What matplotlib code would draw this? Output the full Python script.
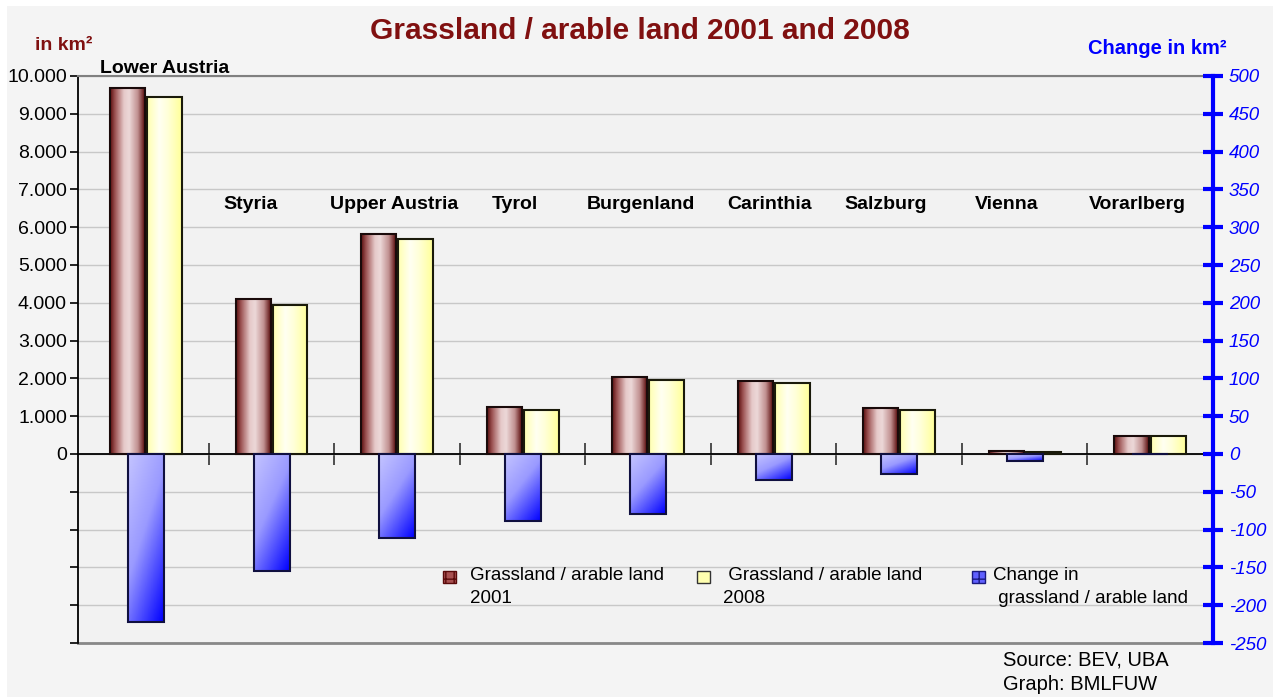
import matplotlib.pyplot as plt
import matplotlib.patches as mpatches
from matplotlib.colors import LinearSegmentedColormap
from matplotlib.ticker import FuncFormatter
import numpy as np

plt.rcParams['font.family'] = ['Liberation Sans', 'DejaVu Sans']
plt.rcParams['axes.unicode_minus'] = False

regions = ["Lower Austria", "Styria", "Upper Austria", "Tyrol", "Burgenland",
           "Carinthia", "Salzburg", "Vienna", "Vorarlberg"]
area_2001 = [9680, 4100, 5820, 1240, 2040, 1930, 1220, 80, 476]
area_2008 = [9445, 3940, 5690, 1165, 1960, 1880, 1165, 55, 476]
change = [-222, -155, -111, -89, -79, -34, -26, -9, 0]
legend_labels = ["Grassland / arable land\n2001",
                 " Grassland / arable land\n2008",
                 "Change in\n grassland / arable land"]

# label layout (offsets in category units)
label_dx = [0.15, -0.17, -0.02, -0.06, -0.06, -0.03, -0.11, -0.14, -0.1]

W, H = 1282, 697
fig = plt.figure(figsize=(W / 100, H / 100), dpi=100, facecolor='white')
fig.patches.append(mpatches.Rectangle((7 / W, 0), (1273 - 7) / W, 1 - 6 / H,
                                      transform=fig.transFigure, facecolor='#f4f4f4',
                                      edgecolor='none', zorder=-10))

ax = fig.add_axes([78 / W, 1 - 643 / H, (1213 - 78) / W, (643 - 76) / H])
ax.set_facecolor('#f2f2f2')
ax2 = ax.twinx()

red_cmap = LinearSegmentedColormap.from_list(
    'red', [(0, '#5c0f0f'), (0.15, '#a05858'), (0.4, '#e6caca'),
            (0.55, '#ecd8d8'), (0.8, '#c09090'), (1, '#5a0c0c')])
yellow_cmap = LinearSegmentedColormap.from_list(
    'yellow', [(0, '#ffffb0'), (0.35, '#fffff2'), (0.6, '#ffffd8'), (1, '#ffff99')])
blue_cmap = LinearSegmentedColormap.from_list(
    'blue', [(0, '#c4c4ff'), (0.45, '#9a9aff'), (1, '#0000ff')])


def fill_gradient(axis, bars, cmap, diagonal=False):
    for b in bars:
        x0, y0 = b.get_x(), b.get_y()
        w, h = b.get_width(), b.get_height()
        if h == 0:
            continue
        if diagonal:
            gx, gy = np.meshgrid(np.linspace(0, 1, 60), np.linspace(0, 1, 60))
            grad = 0.4 * gx + 0.6 * gy
        else:
            grad = np.linspace(0, 1, 100).reshape(1, -1)
        im = axis.imshow(grad, cmap=cmap, aspect='auto', origin='upper',
                         extent=(x0, x0 + w, min(y0, y0 + h), max(y0, y0 + h)),
                         zorder=2, interpolation='bilinear')
        im.set_clip_path(b)


x = np.arange(len(regions))
b1 = ax.bar(x - 0.147, area_2001, width=0.278, facecolor='none', edgecolor='#1a0a0a',
            linewidth=1.5, zorder=3)
b2 = ax.bar(x + 0.147, area_2008, width=0.278, facecolor='none', edgecolor='#1a1a0a',
            linewidth=1.5, zorder=3)
b3 = ax2.bar(x, change, width=0.286, facecolor='none', edgecolor='#101040',
             linewidth=1.5, zorder=3)
fill_gradient(ax, b1, red_cmap)
fill_gradient(ax, b2, yellow_cmap)
fill_gradient(ax2, b3, blue_cmap, diagonal=True)

for i, name in enumerate(regions):
    y = 10200 if i == 0 else 6600
    ax.text(i + label_dx[i], y, name, ha='center', va='center', fontsize=14,
            fontweight='bold', clip_on=False, zorder=5)

# left axis
ax.set_xlim(-0.542, len(regions) - 0.5)
ax.set_ylim(-5000, 10000)
ax.set_yticks(range(-5000, 10001, 1000))
ax.yaxis.set_major_formatter(FuncFormatter(
    lambda v, p: f"{int(v):,}".replace(',', '.') if v >= 0 else ''))
ax.tick_params(axis='y', direction='out', length=6, width=1.2, labelsize=14, pad=2)
ax.grid(axis='y', color='#c8c8c8', linewidth=1)
ax.set_axisbelow(True)
ax.set_xticks(np.arange(0.5, len(regions) - 1, 1))
ax.set_xticklabels([])
ax.tick_params(axis='x', direction='inout', length=16, width=1.2, color='#333333')
ax.spines['bottom'].set_position(('data', 0))
ax.spines['bottom'].set_linewidth(1.3)
ax.spines['top'].set_color('#808080')
ax.spines['top'].set_linewidth(1.5)
ax.spines['left'].set_linewidth(1.3)
ax.spines['right'].set_visible(False)
ax.axhline(-5000, color='#888888', linewidth=2, clip_on=False, zorder=1)

# right axis
ax2.set_ylim(-250, 500)
ax2.set_yticks(range(-250, 501, 50))
ax2.tick_params(axis='y', direction='inout', length=15, width=3, colors='blue',
                labelsize=13.5, pad=4)
for lab in ax2.get_yticklabels():
    lab.set_fontstyle('italic')
for s in ['left', 'top', 'bottom']:
    ax2.spines[s].set_visible(False)
ax2.spines['right'].set_color('blue')
ax2.spines['right'].set_linewidth(3)

# legend drawn by hand to match the two-line layout
legend_faces = ['#a85050', '#ffffb0', '#6060ff']
legend_edges = ['#5a0a0a', '#333333', '#1a1a80']
legend_hatch = ['++', None, '++']
marker_x = [443, 697, 972]
text_x = [470, 723, 993]
for i in range(3):
    fig.patches.append(mpatches.Rectangle(
        (marker_x[i] / W, 1 - 583 / H), 13 / W, 12 / H, transform=fig.transFigure,
        facecolor=legend_faces[i], edgecolor=legend_edges[i], hatch=legend_hatch[i],
        linewidth=1))
    fig.text(text_x[i] / W, 1 - 587 / H, legend_labels[i], ha='left', va='center',
             fontsize=13.5, linespacing=1.45)

fig.text(640 / W, 1 - 31 / H, "Grassland / arable land 2001 and 2008", ha='center',
         va='center', fontsize=21.5, fontweight='bold', color='#801010')
fig.text(35 / W, 1 - 45 / H, "in km²", ha='left', va='center', fontsize=14,
         fontweight='bold', color='#801010')
fig.text(1227 / W, 1 - 49 / H, "Change in km²", ha='right', va='center', fontsize=14.5,
         fontweight='bold', color='blue')
fig.text(1003 / W, 1 - 660 / H, "Source: BEV, UBA", ha='left', va='center', fontsize=14.5)
fig.text(1003 / W, 1 - 685 / H, "Graph: BMLFUW", ha='left', va='center', fontsize=14.5)

fig.savefig('out.png', dpi=100, facecolor=fig.get_facecolor())
